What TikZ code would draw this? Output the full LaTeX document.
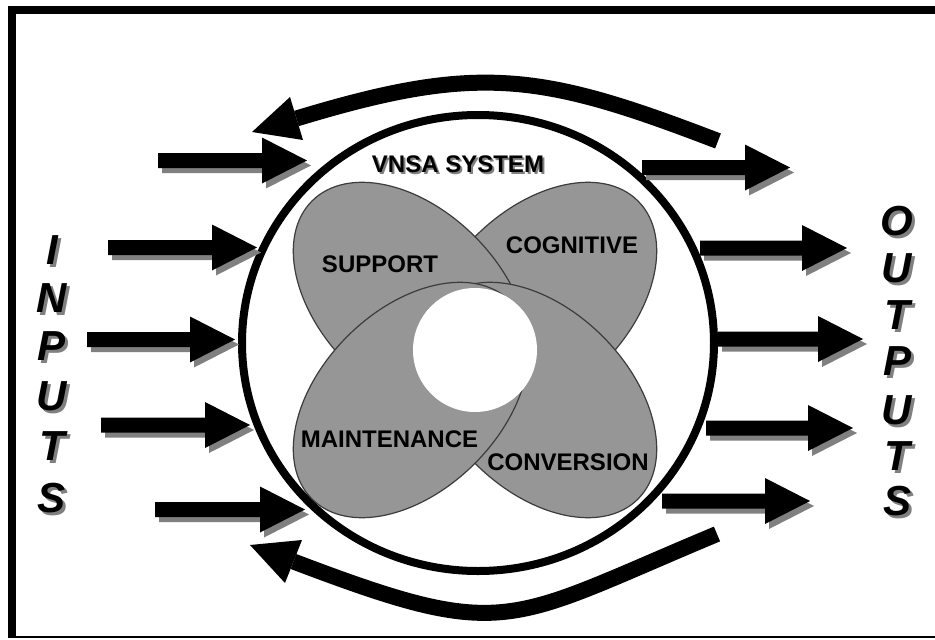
\documentclass[tikz,border=0pt]{standalone}
\usepackage{fontspec}
\setmainfont{Liberation Sans}
\definecolor{petalgray}{RGB}{150,150,150}
\definecolor{petaledge}{RGB}{60,60,60}
\definecolor{shadowgray}{RGB}{128,128,128}
\newcommand\blkarrow[4]{%
  \coordinate (#4) at (#1,-#2);
  \fill[shadowgray,shift={(4,-5)}] (#1,-#2+7.5) -- (#3-45,-#2+7.5) -- (#3-45,-#2+23) -- (#3,-#2) -- (#3-45,-#2-23) -- (#3-45,-#2-7.5) -- (#1,-#2-7.5) -- cycle;
  \fill[black] (#1,-#2+7.5) -- (#3-45,-#2+7.5) -- (#3-45,-#2+23) -- (#3,-#2) -- (#3-45,-#2-23) -- (#3-45,-#2-7.5) -- (#1,-#2-7.5) -- cycle;
}
\newcommand\bigletter[4]{%
  \node[bigl,text=shadowgray] at (#1+3,-#2-3) {#3};
  \node[bigl] (#4) at (#1,-#2) {#3};
}
\tikzset{
  petal/.style={fill=petalgray, draw=petaledge, line width=1.2pt},
  lbl/.style={font=\fontsize{24}{28}\selectfont\bfseries, anchor=base, inner sep=0pt},
  bigl/.style={font=\fontsize{42}{48}\selectfont\bfseries\itshape, anchor=base, inner sep=0pt},
  loop/.style={line width=16pt},
}
\begin{document}
\begin{tikzpicture}[x=1pt,y=1pt]
\useasboundingbox (0,0) rectangle (935,-640);
\fill[white] (0,0) rectangle (935,-640);
% frame
\fill[black] (8,-6) rectangle (935,-14);
\fill[black] (8,-6) rectangle (16,-638);
\draw[line width=1.5pt] (8,-637) -- (935,-637);

% big system circle
\coordinate (sys) at (478,-343);
\draw[line width=8pt] (sys) ellipse [x radius=236, y radius=228];

% petals
\coordinate (ccog) at (539,-300);
\coordinate (csup) at (411,-300);
\coordinate (ccon) at (539,-400);
\coordinate (cmai) at (411,-400);
\draw[petal, rotate around={45:(ccog)}] (ccog) ellipse [x radius=140, y radius=90];
\draw[petal, rotate around={-45:(csup)}] (csup) ellipse [x radius=140, y radius=90];
\draw[petal, rotate around={-45:(ccon)}] (ccon) ellipse [x radius=140, y radius=90];
\draw[petal, rotate around={45:(cmai)}] (cmai) ellipse [x radius=140, y radius=90];
\fill[white] (475,-350) circle [radius=62];

% labels
\node[lbl,text=shadowgray] at (460,-174) {VNSA SYSTEM};
\node[lbl] (vnsa) at (458,-172) {VNSA SYSTEM};
\node[lbl] (sup) at (380,-272) {SUPPORT};
\node[lbl] (cog) at (572,-253) {COGNITIVE};
\node[lbl] (mai) at (389.5,-447) {MAINTENANCE};
\node[lbl] (con) at (568,-470) {CONVERSION};

% inputs
\blkarrow{158}{160.5}{307}{i1}
\blkarrow{108}{247.5}{257}{i2}
\blkarrow{87}{339.5}{235}{i3}
\blkarrow{101}{425}{250}{i4}
\blkarrow{155}{509.5}{305}{i5}
% outputs
\blkarrow{642}{167.5}{790}{o1}
\blkarrow{700}{248}{847}{o2}
\blkarrow{718}{339}{863}{o3}
\blkarrow{706}{428}{853}{o4}
\blkarrow{662}{501}{810}{o5}

% feedback loops
\coordinate (ts) at (718,-141);
\coordinate (te) at (296.5,-118.5);
\draw[loop] (ts) .. controls (541,-73) and (479,-63) .. (te);
\fill (252,-132) -- (290,-97) -- (303,-140) -- cycle;
\coordinate (bs) at (717,-534);
\coordinate (be) at (293.5,-561.5);
\draw[loop] (bs) .. controls (504.7,-622.6) and (508.5,-643.2) .. (be);
\fill (250,-545) -- (302,-540) -- (285,-583) -- cycle;

% INPUTS
\bigletter{52}{264}{I}{l1}
\bigletter{52}{312}{N}{l2}
\bigletter{52}{360}{P}{l3}
\bigletter{52}{410}{U}{l4}
\bigletter{52}{460}{T}{l5}
\bigletter{52}{512}{S}{l6}
% OUTPUTS
\bigletter{897}{235}{O}{r1}
\bigletter{897}{282}{U}{r2}
\bigletter{897}{329}{T}{r3}
\bigletter{897}{375}{P}{r4}
\bigletter{897}{424}{U}{r5}
\bigletter{897}{470}{T}{r6}
\bigletter{897}{515}{S}{r7}
\end{tikzpicture}
\end{document}
